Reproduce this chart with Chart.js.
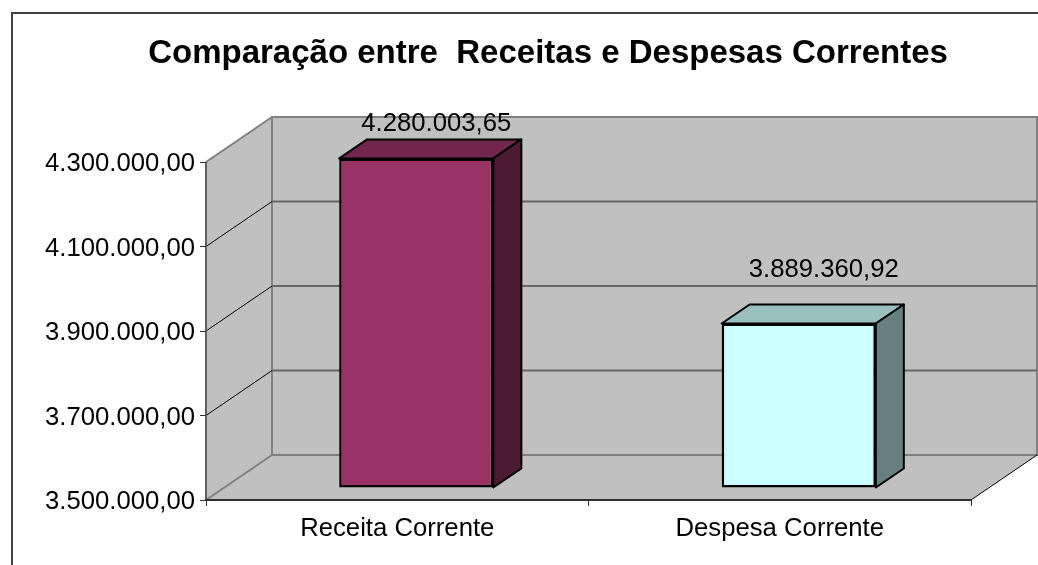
<!DOCTYPE html>
<html>
<head>
<meta charset="utf-8">
<style>
  html, body { margin: 0; padding: 0; background: #fff; overflow: hidden; }
  canvas { display: block; }
</style>
<script src="https://cdn.jsdelivr.net/npm/chart.js@4"></script>
</head>
<body>
<canvas id="chart" width="1038" height="565"></canvas>
<script>
const titleText = 'Comparação entre  Receitas e Despesas Correntes';
const categories = ['Receita Corrente', 'Despesa Corrente'];
const values = [4280003.65, 3889360.92];
const yMin = 3500000;
const yMax = 4300000;
const yStep = 200000;

const frontColors = ['#993366', '#CCFFFF'];
const topColors = ['#73264D', '#99BFBF'];
const sideColors = ['#4D1A33', '#668080'];

const FONT = '"Liberation Sans", Arial, sans-serif';
const LABEL_SIZE = 25.7;

// depth of the box the plot sits in, and of the bars inside it
const WALL_DX = 66, WALL_DY = -45;
const BAR_SHIFT_X = 19, BAR_SHIFT_Y = -12;
const BAR_DX = 28, BAR_DY = -19;

const brl = v => v.toLocaleString('pt-BR', { minimumFractionDigits: 2, maximumFractionDigits: 2 });

function poly(ctx, pts, fill, stroke, lw) {
    ctx.beginPath();
    pts.forEach((p, i) => i ? ctx.lineTo(p[0], p[1]) : ctx.moveTo(p[0], p[1]));
    ctx.closePath();
    if (fill) { ctx.fillStyle = fill; ctx.fill(); }
    if (stroke) { ctx.strokeStyle = stroke; ctx.lineWidth = lw; ctx.stroke(); }
}

function line(ctx, x1, y1, x2, y2, color, lw) {
    ctx.beginPath();
    ctx.moveTo(x1, y1);
    ctx.lineTo(x2, y2);
    ctx.strokeStyle = color;
    ctx.lineWidth = lw;
    ctx.stroke();
}

const box3d = {
    id: 'box3d',
    afterLayout(chart) {
        // the title is centred over the wider part of the frame, not the whole canvas
        chart.titleBlock.left = 125;
    },
    beforeDraw(chart) {
        const { ctx, chartArea: a, scales: { y } } = chart;
        const dx = WALL_DX, dy = WALL_DY;
        ctx.save();

        // outer frame, only top and left are in the picture
        line(ctx, 12, 565, 12, 13, '#404040', 2);
        line(ctx, 11, 13, 1038, 13, '#404040', 2);

        // back wall, side wall, floor
        poly(ctx, [[a.left + dx, a.top + dy], [a.right + dx, a.top + dy], [a.right + dx, a.bottom + dy], [a.left + dx, a.bottom + dy]], '#C0C0C0', null);
        poly(ctx, [[a.left, a.top], [a.left + dx, a.top + dy], [a.left + dx, a.bottom + dy], [a.left, a.bottom]], '#C0C0C0', null);
        poly(ctx, [[a.left, a.bottom], [a.right, a.bottom], [a.right + dx, a.bottom + dy], [a.left + dx, a.bottom + dy]], '#C0C0C0', null);
        poly(ctx, [[a.left + dx, a.top + dy], [a.right + dx, a.top + dy], [a.right + dx, a.bottom + dy], [a.left + dx, a.bottom + dy]], null, '#808080', 2);

        // gridlines bend at the corner of the walls
        y.ticks.forEach(t => {
            const py = y.getPixelForValue(t.value);
            if (t.value === yMin || t.value === yMax) return;
            line(ctx, a.left, py, a.left + dx, py + dy, '#000', 1);
            line(ctx, a.left + dx, py + dy, a.right + dx, py + dy, '#666', 2);
        });

        line(ctx, a.left, a.top, a.left + dx, a.top + dy, '#808080', 2);
        line(ctx, a.left, a.bottom, a.left + dx, a.bottom + dy, '#808080', 2);
        line(ctx, a.right, a.bottom, a.right + dx, a.bottom + dy, '#000', 1);
        line(ctx, a.left, a.top, a.left, a.bottom, '#606060', 2);
        ctx.restore();
    },
    beforeDatasetsDraw(chart) {
        const { ctx } = chart;
        ctx.save();
        ctx.translate(BAR_SHIFT_X, BAR_SHIFT_Y);
    },
    afterDatasetsDraw(chart) {
        const { ctx, chartArea: a } = chart;
        const bars = chart.getDatasetMeta(0).data;
        bars.forEach((bar, i) => {
            const l = bar.x - bar.width / 2, r = bar.x + bar.width / 2;
            const t = bar.y, b = bar.base;
            ctx.lineJoin = 'round';
            poly(ctx, [[l, t], [l + BAR_DX, t + BAR_DY], [r + BAR_DX, t + BAR_DY], [r, t]], topColors[i], '#000', 2);
            poly(ctx, [[r, t], [r + BAR_DX, t + BAR_DY], [r + BAR_DX, b + BAR_DY], [r, b]], sideColors[i], '#000', 2);
        });
        ctx.restore();

        // value labels, the tall bar's label is held down at the top of the wall
        ctx.save();
        ctx.font = LABEL_SIZE + 'px ' + FONT;
        ctx.fillStyle = '#000';
        ctx.textAlign = 'center';
        ctx.textBaseline = 'middle';
        bars.forEach((bar, i) => {
            const x = bar.x + BAR_SHIFT_X + (i ? 25 : 20);
            const y = Math.max(a.top + WALL_DY + 7, bar.y + BAR_SHIFT_Y - 54);
            ctx.fillText(brl(values[i]), x, y);
        });
        ctx.restore();
    }
};

new Chart(document.getElementById('chart'), {
    type: 'bar',
    data: {
        labels: categories,
        datasets: [{
            data: values,
            base: yMin,
            backgroundColor: frontColors,
            borderColor: '#000',
            borderWidth: 2.5,
            borderSkipped: false,
            barPercentage: 0.403,
            categoryPercentage: 1
        }]
    },
    options: {
        responsive: false,
        animation: false,
        layout: { padding: { left: 0, right: 67, top: 0, bottom: 0 } },
        plugins: {
            legend: { display: false },
            tooltip: { enabled: false },
            title: {
                display: true,
                text: titleText,
                color: '#000',
                font: { family: FONT, size: 33, weight: 'bold' },
                padding: { top: 34, bottom: 88.4 }
            }
        },
        scales: {
            x: {
                afterFit(s) { s.height = 65; },
                border: { color: '#303030', width: 2 },
                grid: { drawOnChartArea: false, tickLength: 6, color: '#303030', tickWidth: 1 },
                ticks: { color: '#000', padding: 7, maxRotation: 0, font: { family: FONT, size: LABEL_SIZE } }
            },
            y: {
                min: yMin,
                max: yMax,
                afterFit(s) { s.width = 206; },
                border: { display: false },
                grid: { drawOnChartArea: false, tickLength: 6, color: '#303030', tickWidth: 1 },
                ticks: {
                    stepSize: yStep,
                    color: '#000',
                    padding: 5,
                    labelOffset: 2,
                    font: { family: FONT, size: LABEL_SIZE },
                    callback: v => brl(v)
                }
            }
        }
    },
    plugins: [box3d]
});
</script>
</body>
</html>
